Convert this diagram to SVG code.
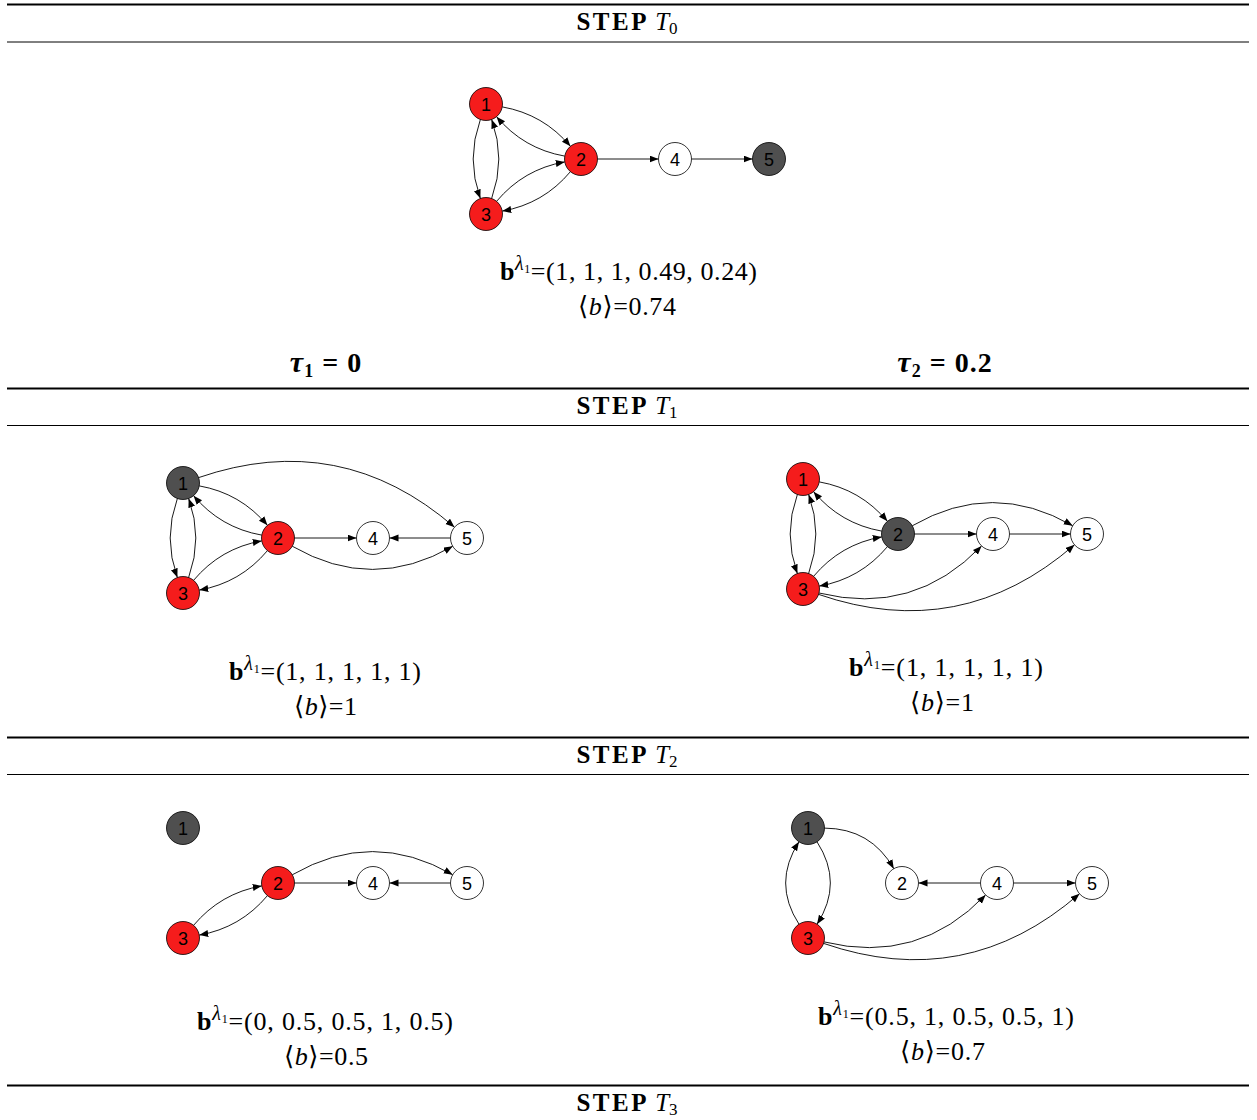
<svg xmlns="http://www.w3.org/2000/svg" width="1257" height="1120" viewBox="0 0 1257 1120">
<defs>
<marker id="arr" markerWidth="10" markerHeight="8" refX="9" refY="3.5" orient="auto" markerUnits="userSpaceOnUse"><path d="M0,0 L9,3.5 L0,7 z" fill="#000"/></marker>
</defs>
<style>
.rule{stroke:#000;}
.thick{stroke-width:2;}
.thin{stroke-width:1;}
.hdr{font-family:"Liberation Serif","DejaVu Serif",serif;font-size:25px;fill:#000;}
.stepw{font-weight:bold;letter-spacing:2.5px;}
.m{font-family:"Liberation Serif","DejaVu Serif",serif;font-size:26px;fill:#000;}
.tau{font-family:"Liberation Serif","DejaVu Serif",serif;font-size:28px;font-weight:bold;fill:#000;letter-spacing:1px;}
.e{fill:none;stroke:#000;stroke-width:0.9;marker-end:url(#arr);}
.n circle{stroke:#000;stroke-width:0.8;}
.red{fill:#f51c1c;}
.dark{fill:#4f4f4f;}
.wht{fill:#fff;}
.n text{font-family:"Liberation Sans","DejaVu Sans",sans-serif;font-size:18px;text-anchor:middle;fill:#000;}
</style>
<rect width="1257" height="1120" fill="#fff"/>

<g id="rules">
<line class="rule thick" x1="7" y1="4.5" x2="1249" y2="4.5"/>
<line class="rule thin" x1="7" y1="42" x2="1249" y2="42"/>
<line class="rule thick" x1="7" y1="388.5" x2="1249" y2="388.5"/>
<line class="rule thin" x1="7" y1="425.5" x2="1249" y2="425.5"/>
<line class="rule thick" x1="7" y1="737.5" x2="1249" y2="737.5"/>
<line class="rule thin" x1="7" y1="774.5" x2="1249" y2="774.5"/>
<line class="rule thick" x1="7" y1="1085.5" x2="1249" y2="1085.5"/>
</g>

<g id="headers">
<text class="hdr" x="627" y="30" text-anchor="middle"><tspan class="stepw">STEP</tspan> <tspan font-style="italic">T</tspan><tspan font-size="17" dy="4">0</tspan></text>
<text class="hdr" x="627" y="414" text-anchor="middle"><tspan class="stepw">STEP</tspan> <tspan font-style="italic">T</tspan><tspan font-size="17" dy="4">1</tspan></text>
<text class="hdr" x="627" y="763" text-anchor="middle"><tspan class="stepw">STEP</tspan> <tspan font-style="italic">T</tspan><tspan font-size="17" dy="4">2</tspan></text>
<text class="hdr" x="627" y="1111" text-anchor="middle"><tspan class="stepw">STEP</tspan> <tspan font-style="italic">T</tspan><tspan font-size="17" dy="4">3</tspan></text>
<text class="tau" x="326" y="372" text-anchor="middle"><tspan font-style="italic" font-size="30">τ</tspan><tspan font-size="18" dy="5">1</tspan><tspan dy="-5"> = 0</tspan></text>
<text class="tau" x="945" y="372" text-anchor="middle"><tspan font-style="italic" font-size="30">τ</tspan><tspan font-size="18" dy="5">2</tspan><tspan dy="-5"> = 0.2</tspan></text>
</g>

<g id="formulas">
<text class="m" x="500" y="280" textLength="257" lengthAdjust="spacing"><tspan font-weight="bold">b</tspan><tspan font-style="italic" font-size="20" dy="-10">λ</tspan><tspan font-size="12" dy="3">1</tspan><tspan dy="7">=(1, 1, 1, 0.49, 0.24)</tspan></text>
<text class="m" x="578" y="315" textLength="98" lengthAdjust="spacing">⟨<tspan font-style="italic">b</tspan>⟩=0.74</text>

<text class="m" x="229" y="680" textLength="192" lengthAdjust="spacing"><tspan font-weight="bold">b</tspan><tspan font-style="italic" font-size="20" dy="-10">λ</tspan><tspan font-size="12" dy="3">1</tspan><tspan dy="7">=(1, 1, 1, 1, 1)</tspan></text>
<text class="m" x="294" y="715" textLength="63" lengthAdjust="spacing">⟨<tspan font-style="italic">b</tspan>⟩=1</text>

<text class="m" x="849" y="676" textLength="194" lengthAdjust="spacing"><tspan font-weight="bold">b</tspan><tspan font-style="italic" font-size="20" dy="-10">λ</tspan><tspan font-size="12" dy="3">1</tspan><tspan dy="7">=(1, 1, 1, 1, 1)</tspan></text>
<text class="m" x="910" y="711" textLength="64" lengthAdjust="spacing">⟨<tspan font-style="italic">b</tspan>⟩=1</text>

<text class="m" x="197" y="1030" textLength="256" lengthAdjust="spacing"><tspan font-weight="bold">b</tspan><tspan font-style="italic" font-size="20" dy="-10">λ</tspan><tspan font-size="12" dy="3">1</tspan><tspan dy="7">=(0, 0.5, 0.5, 1, 0.5)</tspan></text>
<text class="m" x="284" y="1065" textLength="84" lengthAdjust="spacing">⟨<tspan font-style="italic">b</tspan>⟩=0.5</text>

<text class="m" x="818" y="1025" textLength="256" lengthAdjust="spacing"><tspan font-weight="bold">b</tspan><tspan font-style="italic" font-size="20" dy="-10">λ</tspan><tspan font-size="12" dy="3">1</tspan><tspan dy="7">=(0.5, 1, 0.5, 0.5, 1)</tspan></text>
<text class="m" x="900" y="1060" textLength="85" lengthAdjust="spacing">⟨<tspan font-style="italic">b</tspan>⟩=0.7</text>
</g>

<g id="connectors">
<!-- T0 -->
<g transform="translate(486,104)">
<path class="e" d="M-5.64 15.5 Q-20 55 -5.64 94.5"/>
<path class="e" d="M5.64 94.5 Q20 55 5.64 15.5"/>
<path class="e" d="M16.24 2.89 Q57.5 10.2 84.41 42.34"/>
<path class="e" d="M78.75 52.12 Q37.5 44.8 10.59 12.66"/>
<path class="e" d="M10.59 97.34 Q37.5 65.2 78.75 57.88"/>
<path class="e" d="M84.41 67.66 Q57.5 99.8 16.25 107.12"/>
</g>
<path class="e" d="M597.5 159 L658.5 159"/>
<path class="e" d="M691.5 159 L752.5 159"/>
<!-- T1 left -->
<g transform="translate(183,483)">
<path class="e" d="M-5.64 15.5 Q-20 55 -5.64 94.5"/>
<path class="e" d="M5.64 94.5 Q20 55 5.64 15.5"/>
<path class="e" d="M16.24 2.89 Q57.5 10.2 84.41 42.34"/>
<path class="e" d="M78.75 52.12 Q37.5 44.8 10.59 12.66"/>
<path class="e" d="M10.59 97.34 Q37.5 65.2 78.75 57.88"/>
<path class="e" d="M84.41 67.66 Q57.5 99.8 16.25 107.12"/>
</g>
<path class="e" d="M294.5 538 L356.5 538"/>
<path class="e" d="M450.5 538 L389.5 538"/>
<path class="e" d="M198.6 477.6 Q340.8 428.6 454.5 527.2"/>
<path class="e" d="M292.3 546.25 Q372.5 592.6 452.7 546.25"/>
<!-- T1 right -->
<g transform="translate(803,479)">
<path class="e" d="M-5.64 15.5 Q-20 55 -5.64 94.5"/>
<path class="e" d="M5.64 94.5 Q20 55 5.64 15.5"/>
<path class="e" d="M16.24 2.89 Q57.5 10.2 84.41 42.34"/>
<path class="e" d="M78.75 52.12 Q37.5 44.8 10.59 12.66"/>
<path class="e" d="M10.59 97.34 Q37.5 65.2 78.75 57.88"/>
<path class="e" d="M84.41 67.66 Q57.5 99.8 16.25 107.12"/>
</g>
<path class="e" d="M914.5 534 L976.5 534"/>
<path class="e" d="M1009.5 534 L1070.5 534"/>
<path class="e" d="M912.3 525.75 Q992.5 479.4 1072.7 525.75"/>
<path class="e" d="M819 593 Q913.9 616.4 981.6 545.9"/>
<path class="e" d="M818.6 594.4 Q960.9 643.5 1074.5 544.8"/>
<!-- T2 left -->
<g transform="translate(183,828)">
<path class="e" d="M10.59 97.34 Q37.5 65.2 78.75 57.88"/>
<path class="e" d="M84.41 67.66 Q57.5 99.8 16.25 107.12"/>
</g>
<path class="e" d="M294.5 883 L356.5 883"/>
<path class="e" d="M450.5 883 L389.5 883"/>
<path class="e" d="M292.3 874.75 Q372.5 828.4 452.7 874.75"/>
<!-- T2 right -->
<path class="e" d="M824.5 828.1 Q870.9 828.4 893.8 868.7"/>
<path class="e" d="M817 841.8 Q843.7 883 817 924.2"/>
<path class="e" d="M799 924.2 Q772.3 883 799 841.8"/>
<path class="e" d="M980.5 883 L918.5 883"/>
<path class="e" d="M1013.5 883 L1075.5 883"/>
<path class="e" d="M824 941.9 Q918.4 965 985.6 894.9"/>
<path class="e" d="M823.6 943.4 Q965.9 992.5 1079.5 893.8"/>
</g>

<g id="t0-n1" class="n"><circle class="red" cx="486" cy="104" r="16.5"/><text x="486" y="110.5">1</text></g>
<g id="t0-n2" class="n"><circle class="red" cx="581" cy="159" r="16.5"/><text x="581" y="165.5">2</text></g>
<g id="t0-n3" class="n"><circle class="red" cx="486" cy="214" r="16.5"/><text x="486" y="220.5">3</text></g>
<g id="t0-n4" class="n"><circle class="wht" cx="675" cy="159" r="16.5"/><text x="675" y="165.5">4</text></g>
<g id="t0-n5" class="n"><circle class="dark" cx="769" cy="159" r="16.5"/><text x="769" y="165.5">5</text></g>

<g id="t1a-n1" class="n"><circle class="dark" cx="183" cy="483" r="16.5"/><text x="183" y="489.5">1</text></g>
<g id="t1a-n2" class="n"><circle class="red" cx="278" cy="538" r="16.5"/><text x="278" y="544.5">2</text></g>
<g id="t1a-n3" class="n"><circle class="red" cx="183" cy="593" r="16.5"/><text x="183" y="599.5">3</text></g>
<g id="t1a-n4" class="n"><circle class="wht" cx="373" cy="538" r="16.5"/><text x="373" y="544.5">4</text></g>
<g id="t1a-n5" class="n"><circle class="wht" cx="467" cy="538" r="16.5"/><text x="467" y="544.5">5</text></g>

<g id="t1b-n1" class="n"><circle class="red" cx="803" cy="479" r="16.5"/><text x="803" y="485.5">1</text></g>
<g id="t1b-n2" class="n"><circle class="dark" cx="898" cy="534" r="16.5"/><text x="898" y="540.5">2</text></g>
<g id="t1b-n3" class="n"><circle class="red" cx="803" cy="589" r="16.5"/><text x="803" y="595.5">3</text></g>
<g id="t1b-n4" class="n"><circle class="wht" cx="993" cy="534" r="16.5"/><text x="993" y="540.5">4</text></g>
<g id="t1b-n5" class="n"><circle class="wht" cx="1087" cy="534" r="16.5"/><text x="1087" y="540.5">5</text></g>

<g id="t2a-n1" class="n"><circle class="dark" cx="183" cy="828" r="16.5"/><text x="183" y="834.5">1</text></g>
<g id="t2a-n2" class="n"><circle class="red" cx="278" cy="883" r="16.5"/><text x="278" y="889.5">2</text></g>
<g id="t2a-n3" class="n"><circle class="red" cx="183" cy="938" r="16.5"/><text x="183" y="944.5">3</text></g>
<g id="t2a-n4" class="n"><circle class="wht" cx="373" cy="883" r="16.5"/><text x="373" y="889.5">4</text></g>
<g id="t2a-n5" class="n"><circle class="wht" cx="467" cy="883" r="16.5"/><text x="467" y="889.5">5</text></g>

<g id="t2b-n1" class="n"><circle class="dark" cx="808" cy="828" r="16.5"/><text x="808" y="834.5">1</text></g>
<g id="t2b-n2" class="n"><circle class="wht" cx="902" cy="883" r="16.5"/><text x="902" y="889.5">2</text></g>
<g id="t2b-n3" class="n"><circle class="red" cx="808" cy="938" r="16.5"/><text x="808" y="944.5">3</text></g>
<g id="t2b-n4" class="n"><circle class="wht" cx="997" cy="883" r="16.5"/><text x="997" y="889.5">4</text></g>
<g id="t2b-n5" class="n"><circle class="wht" cx="1092" cy="883" r="16.5"/><text x="1092" y="889.5">5</text></g>
</svg>
